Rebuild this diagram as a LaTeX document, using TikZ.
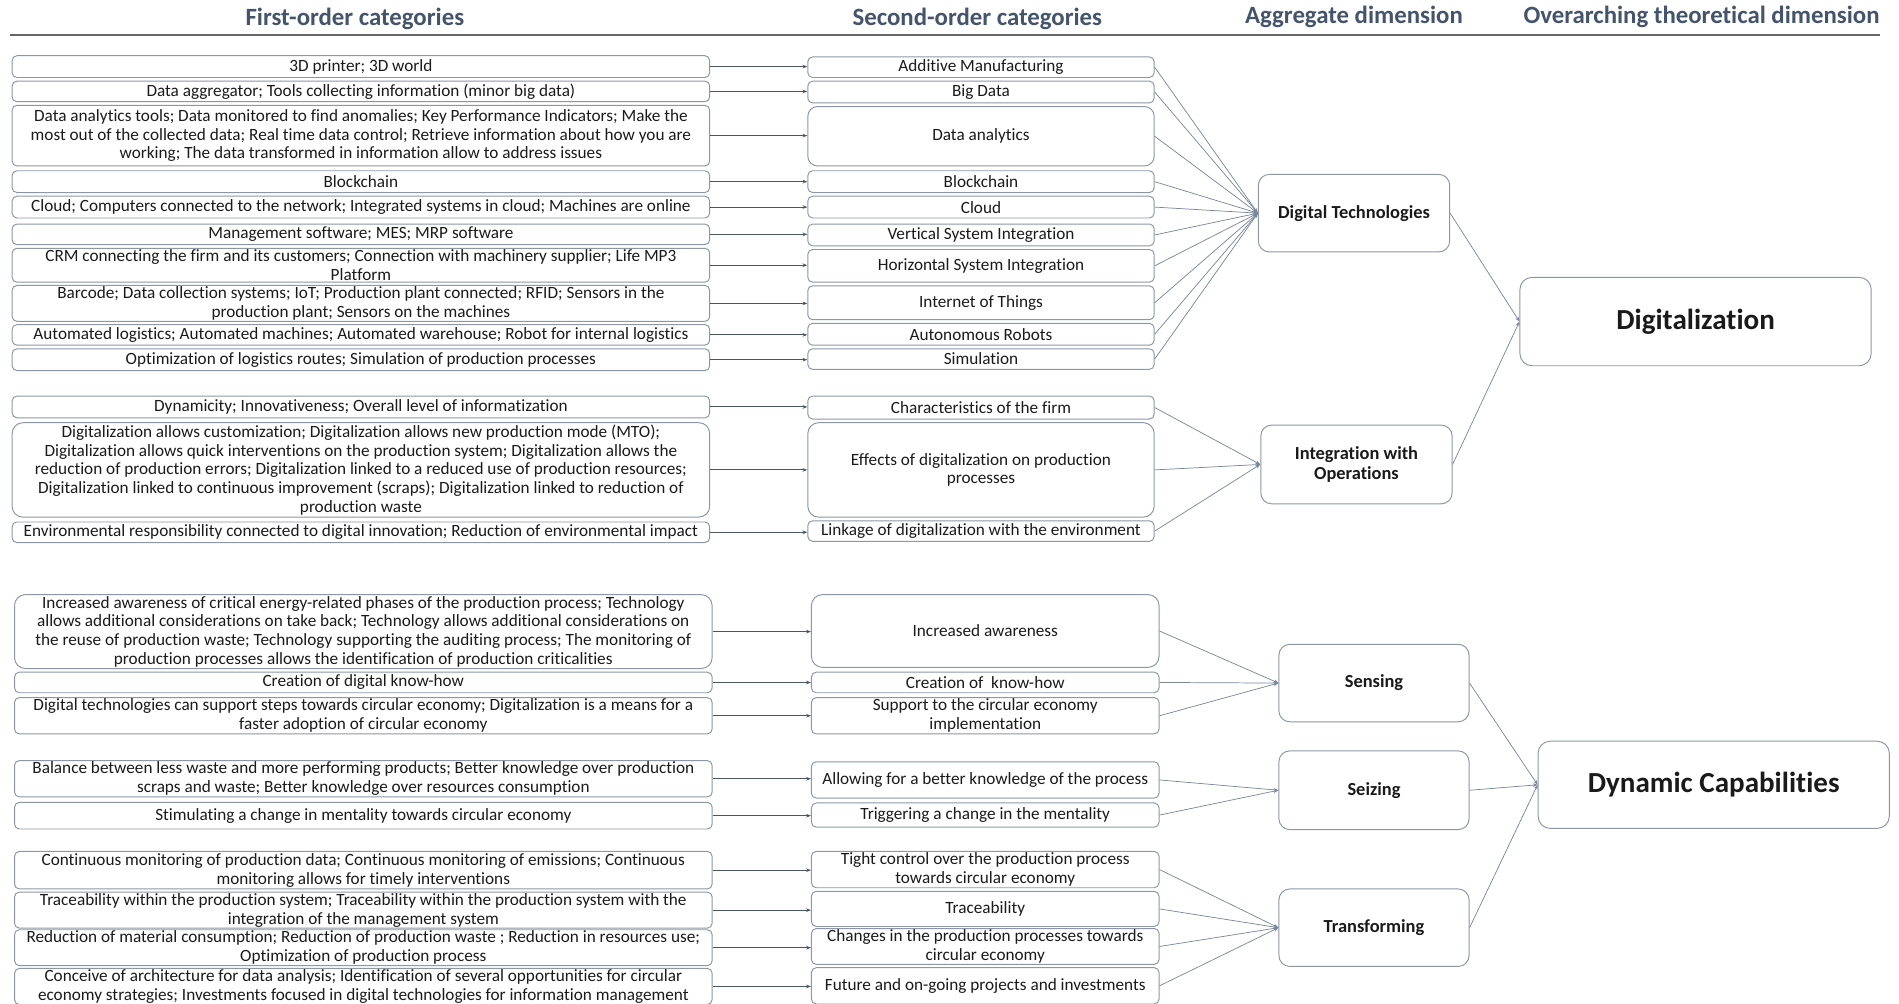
\documentclass[tikz,border=0pt]{standalone}
\usepackage{fontspec}
\setmainfont[Ligatures=NoCommon]{Carlito}
\usetikzlibrary{arrows.meta}
\definecolor{hdr}{HTML}{44546A}
\definecolor{bord}{HTML}{8C96A5}
\definecolor{arr}{HTML}{4A5568}
\definecolor{arr2}{HTML}{7A8699}
\definecolor{txt}{HTML}{1A1A1A}
\begin{document}
\begin{tikzpicture}[x=1pt,y=-1pt,
 box/.style={draw=bord, line width=0.8pt, rounded corners=4pt, align=center, inner sep=1pt, font=\fontsize{14.2}{15.5}\selectfont, text=txt},
 fo/.style={box, minimum width=576pt},
 so/.style={box, minimum width=286pt},
 agg/.style={draw=bord, line width=0.8pt, rounded corners=9pt, align=center, minimum width=158pt, minimum height=64pt, text=txt, font=\bfseries\fontsize{15.2}{17}\selectfont},
 over/.style={draw=bord, line width=0.8pt, rounded corners=10pt, align=center, minimum width=290pt, minimum height=73pt, text=txt, font=\bfseries\fontsize{24}{28}\selectfont},
 hd/.style={text=hdr, font=\bfseries\fontsize{20.5}{24}\selectfont},
 a1/.style={draw=arr, line width=0.9pt, -{Stealth[length=4pt,width=3pt]}},
 a2/.style={draw=arr2, line width=0.6pt, -{Stealth[length=4pt,width=3pt]}},
]
\useasboundingbox (0,0) rectangle (1568,829);
% headers
\node[hd] (H1) at (293,16) {First-order categories};
\node[hd] (H2) at (807,16) {Second-order categories};
\node[hd] (H3) at (1118,14) {Aggregate dimension};
\node[hd] (H4) at (1405,14) {Overarching theoretical dimension};
\coordinate (L1) at (8,29);
\coordinate (L2) at (1552,29);
\draw[draw=black!60, line width=2pt] (L1) -- (L2);

% ---------- Digital technologies ----------
\node[fo, minimum height=18pt] (f1) at (298,55) {3D printer; 3D world};
\node[fo, minimum height=17pt] (f2) at (298,75.5) {Data aggregator; Tools collecting information (minor big data)};
\node[fo, minimum height=50pt] (f3) at (298,112) {Data analytics tools; Data monitored to find anomalies; Key Performance Indicators; Make the\\most out of the collected data; Real time data control; Retrieve information about how you are\\working; The data transformed in information allow to address issues};
\node[fo, minimum height=18pt] (f4) at (298,150) {Blockchain};
\node[fo, minimum height=18pt] (f5) at (298,171) {Cloud; Computers connected to the network; Integrated systems in cloud; Machines are online};
\node[fo, minimum height=17pt] (f6) at (298,193.5) {Management software; MES; MRP software};
\node[fo, minimum height=28pt] (f7) at (298,219) {CRM connecting the firm and its customers; Connection with machinery supplier; Life MP3\\Platform};
\node[fo, minimum height=29pt] (f8) at (298,250.5) {Barcode; Data collection systems; IoT; Production plant connected; RFID; Sensors in the\\production plant; Sensors on the machines};
\node[fo, minimum height=17pt] (f9) at (298,276.5) {Automated logistics; Automated machines; Automated warehouse; Robot for internal logistics};
\node[fo, minimum height=18pt] (f10) at (298,297) {Optimization of logistics routes; Simulation of production processes};

\node[so, minimum height=17pt] (s1) at (810,55.5) {Additive Manufacturing};
\node[so, minimum height=18pt] (s2) at (810,76) {Big Data};
\node[so, minimum height=49pt, rounded corners=8pt] (s3) at (810,112.5) {Data analytics};
\node[so, minimum height=18pt] (s4) at (810,150) {Blockchain};
\node[so, minimum height=18pt] (s5) at (810,171) {Cloud};
\node[so, minimum height=18pt] (s6) at (810,194) {Vertical System Integration};
\node[so, minimum height=27pt] (s7) at (810,219.5) {Horizontal System Integration};
\node[so, minimum height=28pt] (s8) at (810,250) {Internet of Things};
\node[so, minimum height=18pt] (s9) at (810,276) {Autonomous Robots};
\node[so, minimum height=17pt] (s10) at (810,296.5) {Simulation};

\node[agg] (DT) at (1118,176) {Digital Technologies};
\node[over] (DIG) at (1400,265.5) {Digitalization};

% ---------- Integration with operations ----------
\node[fo, minimum height=18pt] (g1) at (298,336) {Dynamicity; Innovativeness; Overall level of informatization};
\node[fo, minimum height=78pt, rounded corners=9pt] (g2) at (298,388) {Digitalization allows customization; Digitalization allows new production mode (MTO);\\Digitalization allows quick interventions on the production system; Digitalization allows the\\reduction of production errors; Digitalization linked to a reduced use of production resources;\\Digitalization linked to continuous improvement (scraps); Digitalization linked to reduction of\\production waste};
\node[fo, minimum height=17pt] (g3) at (298,439.5) {Environmental responsibility connected to digital innovation; Reduction of environmental impact};

\node[so, minimum height=19pt] (t1) at (810,336.5) {Characteristics of the firm};
\node[so, minimum height=78pt, rounded corners=9pt] (t2) at (810,388) {Effects of digitalization on production\\processes};
\node[so, minimum height=17pt] (t3) at (810,438.5) {Linkage of digitalization with the environment};

\node[agg, minimum height=65pt] (IO) at (1120,383.5) {Integration with\\Operations};

% ---------- Sensing ----------
\node[fo, minimum height=61pt, rounded corners=9pt] (h1) at (300,521.5) {Increased awareness of critical energy-related phases of the production process; Technology\\allows additional considerations on take back; Technology allows additional considerations on\\the reuse of production waste; Technology supporting the auditing process; The monitoring of\\production processes allows the identification of production criticalities};
\node[fo, minimum height=17pt] (h2) at (300,563.5) {Creation of digital know-how};
\node[fo, minimum height=30pt] (h3) at (300,591) {Digital technologies can support steps towards circular economy; Digitalization is a means for a\\faster adoption of circular economy};

\node[so, minimum width=287pt, minimum height=60pt, rounded corners=9pt] (u1) at (813.5,521) {Increased awareness};
\node[so, minimum width=287pt, minimum height=17pt] (u2) at (813.5,563.5) {Creation of\ \ know-how};
\node[so, minimum width=287pt, minimum height=30pt] (u3) at (813.5,591) {Support to the circular economy\\implementation};

\node[agg, minimum width=157pt] (SEN) at (1134.5,564) {Sensing};

% ---------- Seizing ----------
\node[fo, minimum height=30pt] (h4) at (300,643) {Balance between less waste and more performing products; Better knowledge over production\\scraps and waste; Better knowledge over resources consumption};
\node[fo, minimum height=22pt] (h5) at (300,673.5) {Stimulating a change in mentality towards circular economy};

\node[so, minimum width=287pt, minimum height=30pt] (u4) at (813.5,644) {Allowing for a better knowledge of the process};
\node[so, minimum width=287pt, minimum height=20pt] (u5) at (813.5,673) {Triggering a change in the mentality};

\node[agg, minimum width=157pt, minimum height=65pt] (SEI) at (1134.5,652.5) {Seizing};

% ---------- Transforming ----------
\node[fo, minimum height=31pt] (h6) at (300,718.5) {Continuous monitoring of production data; Continuous monitoring of emissions; Continuous\\monitoring allows for timely interventions};
\node[fo, minimum height=29pt] (h7) at (300,751.5) {Traceability within the production system; Traceability within the production system with the\\integration of the management system};
\node[fo, minimum height=29pt] (h8) at (300,782.5) {Reduction of material consumption; Reduction of production waste ; Reduction in resources use;\\Optimization of production process};
\node[fo, minimum height=29pt] (h9) at (300,814.5) {Conceive of architecture for data analysis; Identification of several opportunities for circular\\economy strategies; Investments focused in digital technologies for information management};

\node[so, minimum width=287pt, minimum height=30pt] (u6) at (813.5,718) {Tight control over the production process\\towards circular economy};
\node[so, minimum width=287pt, minimum height=29pt] (u7) at (813.5,750.5) {Traceability};
\node[so, minimum width=287pt, minimum height=29pt] (u8) at (813.5,781.5) {Changes in the production processes towards\\circular economy};
\node[so, minimum width=287pt, minimum height=30pt] (u9) at (813.5,814) {Future and on-going projects and investments};

\node[agg, minimum width=157pt] (TRA) at (1134.5,766) {Transforming};
\node[over, minimum height=72pt] (DC) at (1415,648) {Dynamic Capabilities};

% ---------- connectors ----------
\foreach \i in {1,...,10} {\draw[a1] (f\i.east) -- (f\i.east -| s\i.west);}
\foreach \i in {1,2,3} {\draw[a1] (g\i.east) -- (g\i.east -| t\i.west);}
\foreach \i in {1,...,9} {\draw[a1] (h\i.east) -- (h\i.east -| u\i.west);}

\foreach \i in {1,...,10} {\draw[a2] (s\i.east) -- (DT.west);}
\foreach \i in {1,2,3} {\draw[a2] (t\i.east) -- (IO.west);}
\foreach \i in {1,2,3} {\draw[a2] (u\i.east) -- (SEN.west);}
\foreach \i in {4,5} {\draw[a2] (u\i.east) -- (SEI.west);}
\foreach \i in {6,...,9} {\draw[a2] (u\i.east) -- (TRA.west);}

\draw[a2] (DT.east) -- (DIG.west);
\draw[a2] (IO.east) -- (DIG.west);
\draw[a2] (SEN.east) -- (DC.west);
\draw[a2] (SEI.east) -- (DC.west);
\draw[a2] (TRA.east) -- (DC.west);
\end{tikzpicture}
\end{document}
